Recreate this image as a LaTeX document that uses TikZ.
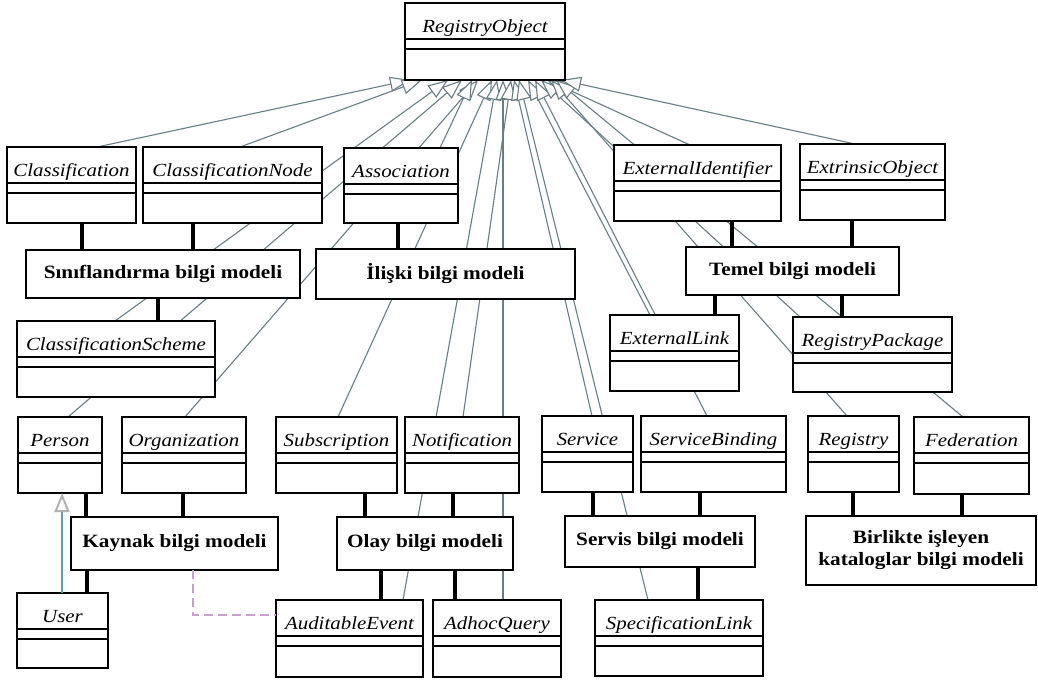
\documentclass[tikz,border=0pt]{standalone}
\usepackage{fontspec}
\newfontfamily\clsfont[FakeStretch=1.13]{Liberation Serif}
\usetikzlibrary{arrows.meta}
\pgfdeclarelayer{back}
\pgfdeclarelayer{lines}
\pgfsetlayers{back,lines,main}

\definecolor{gencol}{RGB}{105,125,130}
\definecolor{tealcol}{RGB}{95,160,160}
\definecolor{depcol}{RGB}{200,160,205}

\tikzset{
  clsbox/.style={draw, line width=2.5pt, fill=white, anchor=north west, inner sep=0pt, outer sep=0pt},
  sepline/.style={line width=2pt},
  clsname/.style={font=\clsfont\itshape\fontsize{18.5}{20}\selectfont, inner sep=0pt, outer sep=0pt},
  infobox/.style={draw, line width=2.5pt, fill=white, anchor=north west, inner sep=0pt, outer sep=0pt,
    align=center, font=\clsfont\bfseries\fontsize{18.8}{22}\selectfont},
  link/.style={line width=4.2pt},
  genline/.style={draw=gencol, line width=1.1pt, -{Triangle[length=20pt,width=15pt,color=gencol,fill=white]}},
  subline/.style={draw=tealcol, line width=2pt, -{Triangle[length=19pt,width=15pt,color=gray!60,fill=white]}},
  depline/.style={draw=depcol, line width=2pt, dash pattern=on 9pt off 5pt},
}

% UML class: name, x1, y1, x2, y2, title
\newcommand\umlclass[6]{%
  \node[clsbox, minimum width={(#4)-(#2)}, minimum height={(#5)-(#3)}] (#1) at (#2,#3) {};
  \draw[sepline] ([yshift=-36pt]#1.north west) -- ([yshift=-36pt]#1.north east);
  \draw[sepline] ([yshift=-46pt]#1.north west) -- ([yshift=-46pt]#1.north east);
  \node[clsname, anchor=base] (#1-name) at ([yshift=-29pt]#1.north) {#6};
}

\begin{document}
\begin{tikzpicture}[x=1pt,y=-1pt]
\begin{pgfonlayer}{back}
  \fill[white] (0,0) rectangle (1038,680);
\end{pgfonlayer}
\useasboundingbox (0,0) rectangle (1038,680);

% classes
\umlclass{RO}{405}{3}{565}{80}{RegistryObject}
\umlclass{Classification}{7}{147}{136}{223}{Classification}
\umlclass{ClassificationNode}{143}{147}{322}{223}{ClassificationNode}
\umlclass{Association}{344}{148}{458}{223}{Association}
\umlclass{ExternalIdentifier}{614}{145}{781}{221}{ExternalIdentifier}
\umlclass{ExtrinsicObject}{800}{144}{945}{220}{ExtrinsicObject}
\umlclass{ClassificationScheme}{17}{321}{215}{397}{ClassificationScheme}
\umlclass{ExternalLink}{610}{315}{739}{391}{ExternalLink}
\umlclass{RegistryPackage}{793}{317}{952}{392}{RegistryPackage}
\umlclass{Person}{18}{417}{102}{493}{Person}
\umlclass{Organization}{122}{417}{246}{493}{Organization}
\umlclass{Subscription}{276}{417}{397}{493}{Subscription}
\umlclass{Notification}{405}{417}{519}{493}{Notification}
\umlclass{Service}{542}{416}{633}{492}{Service}
\umlclass{ServiceBinding}{641}{416}{786}{492}{ServiceBinding}
\umlclass{Registry}{808}{416}{899}{492}{Registry}
\umlclass{Federation}{914}{417}{1029}{494}{Federation}
\umlclass{User}{17}{593}{108}{668}{User}
\umlclass{AuditableEvent}{276}{600}{423}{677}{AuditableEvent}
\umlclass{AdhocQuery}{433}{600}{561}{677}{AdhocQuery}
\umlclass{SpecificationLink}{595}{600}{763}{676}{SpecificationLink}

% information model groups
\node[infobox, minimum width=274pt, minimum height=48pt] (Sinif) at (26,250) {Sınıflandırma bilgi modeli};
\node[infobox, minimum width=259pt, minimum height=50pt] (Iliski) at (316,249) {İlişki bilgi modeli};
\node[infobox, minimum width=213pt, minimum height=48pt] (Temel) at (686,247) {Temel bilgi modeli};
\node[infobox, minimum width=207pt, minimum height=53pt] (Kaynak) at (71,517) {Kaynak bilgi modeli};
\node[infobox, minimum width=176pt, minimum height=53pt] (Olay) at (337,517) {Olay bilgi modeli};
\node[infobox, minimum width=190pt, minimum height=51pt] (Servis) at (565,516) {Servis bilgi modeli};
\node[infobox, minimum width=230pt, minimum height=69pt] (Birlikte) at (806,516) {Birlikte işleyen\\kataloglar bilgi modeli};

% group membership links
\draw[link] ([xshift=10.5pt]Classification.south) -- ([xshift=10.5pt]Classification.south |- Sinif.north);
\draw[link] ([xshift=-39.5pt]ClassificationNode.south) -- ([xshift=-39.5pt]ClassificationNode.south |- Sinif.north);
\draw[link] ([xshift=42pt]ClassificationScheme.north) -- ([xshift=42pt]ClassificationScheme.north |- Sinif.south);
\draw[link] ([xshift=-3pt]Association.south) -- ([xshift=-3pt]Association.south |- Iliski.north);
\draw[link] ([xshift=34.5pt]ExternalIdentifier.south) -- ([xshift=34.5pt]ExternalIdentifier.south |- Temel.north);
\draw[link] ([xshift=-20.5pt]ExtrinsicObject.south) -- ([xshift=-20.5pt]ExtrinsicObject.south |- Temel.north);
\draw[link] ([xshift=40.5pt]ExternalLink.north) -- ([xshift=40.5pt]ExternalLink.north |- Temel.south);
\draw[link] ([xshift=-30.5pt]RegistryPackage.north) -- ([xshift=-30.5pt]RegistryPackage.north |- Temel.south);
\draw[link] ([xshift=26pt]Person.south) -- ([xshift=26pt]Person.south |- Kaynak.north);
\draw[link] ([xshift=-1pt]Organization.south) -- ([xshift=-1pt]Organization.south |- Kaynak.north);
\draw[link] ([xshift=24.5pt]User.north) -- ([xshift=24.5pt]User.north |- Kaynak.south);
\draw[link] ([xshift=28.5pt]Subscription.south) -- ([xshift=28.5pt]Subscription.south |- Olay.north);
\draw[link] ([xshift=-9pt]Notification.south) -- ([xshift=-9pt]Notification.south |- Olay.north);
\draw[link] ([xshift=31.5pt]AuditableEvent.north) -- ([xshift=31.5pt]AuditableEvent.north |- Olay.south);
\draw[link] ([xshift=-42pt]AdhocQuery.north) -- ([xshift=-42pt]AdhocQuery.north |- Olay.south);
\draw[link] ([xshift=5.5pt]Service.south) -- ([xshift=5.5pt]Service.south |- Servis.north);
\draw[link] ([xshift=-13.5pt]ServiceBinding.south) -- ([xshift=-13.5pt]ServiceBinding.south |- Servis.north);
\draw[link] ([xshift=19pt]SpecificationLink.north) -- ([xshift=19pt]SpecificationLink.north |- Servis.south);
\draw[link] ([xshift=-0.5pt]Registry.south) -- ([xshift=-0.5pt]Registry.south |- Birlikte.north);
\draw[link] ([xshift=-9.5pt]Federation.south) -- ([xshift=-9.5pt]Federation.south |- Birlikte.north);

% generalizations to RegistryObject, running behind the boxes
\begin{pgfonlayer}{lines}
\draw[genline] ([xshift=25.5pt]Classification.north) -- ([xshift=-75pt]RO.south);
\draw[genline] ([xshift=7.5pt]ClassificationNode.north) -- ([xshift=-63pt]RO.south);
\draw[genline] ([xshift=-1pt]ClassificationScheme.north) -- ([xshift=-37pt]RO.south);
\draw[genline] ([xshift=8pt]Person.north) -- ([xshift=-23pt]RO.south);
\draw[genline] ([xshift=1pt]Organization.north) -- ([xshift=-7pt]RO.south);
\draw[genline] ([xshift=39pt]Association.north) -- ([xshift=-13pt]RO.south);
\draw[genline] ([xshift=1.5pt]Subscription.north) -- ([xshift=7pt]RO.south);
\draw[genline] ([xshift=53.5pt]AuditableEvent.north) -- ([xshift=12pt]RO.south);
\draw[genline] ([xshift=6pt]AdhocQuery.north) -- ([xshift=18pt]RO.south);
\draw[genline] ([xshift=1pt]Notification.north) -- ([xshift=26pt]RO.south);
\draw[genline] ([xshift=4.5pt]Service.north) -- ([xshift=29pt]RO.south);
\draw[genline] ([xshift=-31pt]SpecificationLink.north) -- ([xshift=34pt]RO.south);
\draw[genline] ([xshift=-24.5pt]ExternalLink.north) -- ([xshift=43pt]RO.south);
\draw[genline] ([xshift=-6.5pt]ServiceBinding.north) -- ([xshift=50pt]RO.south);
\draw[genline] ([xshift=-72.5pt]RegistryPackage.north) -- ([xshift=56pt]RO.south);
\draw[genline] ([xshift=-7.5pt]ExternalIdentifier.north) -- ([xshift=62pt]RO.south);
\draw[genline] ([xshift=-6.5pt]Registry.north) -- ([xshift=66pt]RO.south);
\draw[genline] ([xshift=-8.5pt]Federation.north) -- ([xshift=71pt]RO.south);
\draw[genline] ([xshift=-17.5pt]ExtrinsicObject.north) -- ([xshift=76pt]RO.south);
\end{pgfonlayer}

% User specializes Person
\draw[subline] ([xshift=-0.5pt]User.north) -- ([xshift=-0.5pt]User.north |- Person.south);

% dependency from the resource model to AuditableEvent
\draw[depline] ([xshift=18.5pt]Kaynak.south) |- ([yshift=23.5pt]AuditableEvent.west);
\end{tikzpicture}
\end{document}
